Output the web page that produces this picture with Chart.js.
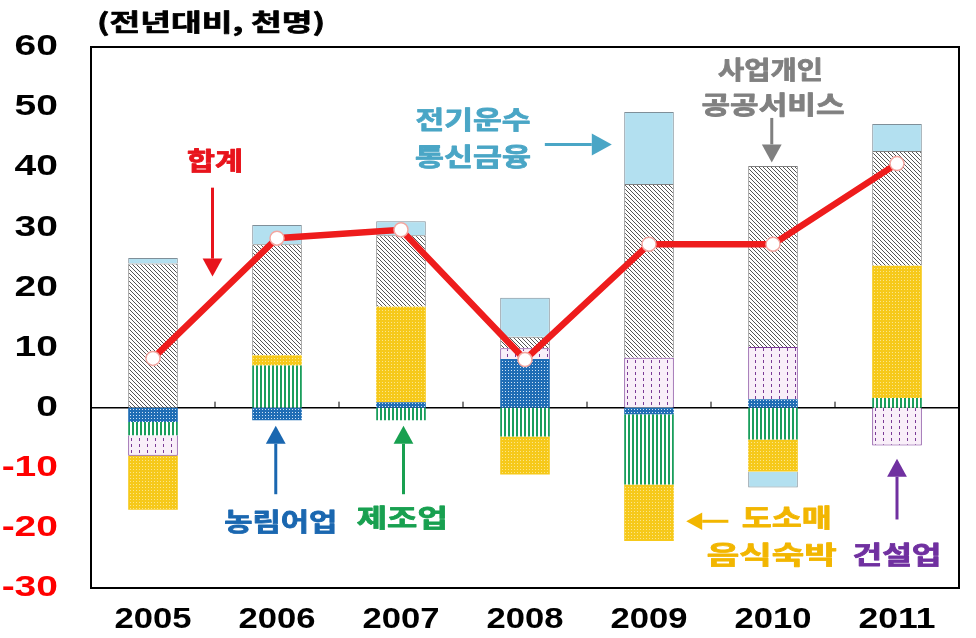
<!DOCTYPE html>
<html>
<head>
<meta charset="utf-8">
<script src="https://cdn.jsdelivr.net/npm/chart.js@4/dist/chart.umd.min.js"></script>
<style>
  html, body { margin: 0; padding: 0; background: #fff; }
  #wrap { width: 976px; height: 638px; }
</style>
</head>
<body>
<div id="wrap"><canvas id="myChart" width="976" height="638"></canvas></div>
<script>
// data (전년대비, 천명)
var years = ['2005', '2006', '2007', '2008', '2009', '2010', '2011'];
var agri = [-2.4, -2.1, 0.9, 8.1, -1.1, 1.4, 0];            // 농림어업
var manuf = [-2.2, 7.0, -2.1, -4.8, -11.7, -5.3, 1.6];      // 제조업
var constr = [-3.4, 0, 0, 1.8, 8.3, 8.7, -6.3];             // 건설업
var wholesale = [-9.0, 1.7, 15.9, -6.3, -9.4, -5.3, 22.0];  // 도소매 음식숙박
var services = [24.0, 18.5, 11.9, 1.9, 28.9, 30.1, 19.1];   // 사업개인 공공서비스
var transport = [0.9, 3.2, 2.3, 6.5, 12.0, -2.7, 4.5];      // 전기운수 통신금융
var total = [8.2, 28.2, 29.6, 8.0, 27.2, 27.2, 40.6];       // 합계

function makePattern(w, h, draw) {
  var c = document.createElement('canvas');
  c.width = w; c.height = h;
  var g = c.getContext('2d');
  draw(g);
  return g.createPattern(c, 'repeat');
}

var pAgri = makePattern(3, 3, function (g) {
  g.fillStyle = '#1f6db5'; g.fillRect(0, 0, 3, 3);
  g.fillStyle = '#cfe3f5'; g.fillRect(1, 1, 1, 1);
});
var pManuf = makePattern(4, 4, function (g) {
  g.fillStyle = '#ffffff'; g.fillRect(0, 0, 4, 4);
  g.fillStyle = '#1a9e5c'; g.fillRect(0, 0, 2, 4);
});
var pConstr = makePattern(8, 6, function (g) {
  g.fillStyle = '#f9eff9'; g.fillRect(0, 0, 8, 6);
  g.fillStyle = '#7a3a96'; g.fillRect(3, 0, 1, 3);
});
var pWhole = makePattern(3, 3, function (g) {
  g.fillStyle = '#f6c91a'; g.fillRect(0, 0, 3, 3);
  g.fillStyle = '#fbe58a'; g.fillRect(1, 1, 1, 1);
});
var pServ = makePattern(4, 4, function (g) {
  g.fillStyle = '#ffffff'; g.fillRect(0, 0, 4, 4);
  g.fillStyle = '#555555';
  for (var i = 0; i < 4; i++) g.fillRect(i, i, 1, 1);
});

var font = "'Liberation Sans', Arial, sans-serif";
var kfont = "'Noto Sans CJK KR', sans-serif";

function arrow(g, x1, y1, x2, y2, color, lw, head) {
  var a = Math.atan2(y2 - y1, x2 - x1);
  g.save();
  g.strokeStyle = color; g.fillStyle = color; g.lineWidth = lw;
  g.beginPath();
  g.moveTo(x1, y1);
  g.lineTo(x2 - Math.cos(a) * head, y2 - Math.sin(a) * head);
  g.stroke();
  g.beginPath();
  g.moveTo(x2, y2);
  g.lineTo(x2 - Math.cos(a) * head - Math.sin(a) * head * 0.55, y2 - Math.sin(a) * head + Math.cos(a) * head * 0.55);
  g.lineTo(x2 - Math.cos(a) * head + Math.sin(a) * head * 0.55, y2 - Math.sin(a) * head - Math.cos(a) * head * 0.55);
  g.closePath();
  g.fill();
  g.restore();
}

// text stretched sideways to the width it has in the picture
function label(g, text, x, y, color, size, width, fam, align, heavy) {
  g.save();
  g.font = 'bold ' + size + 'px ' + (fam || kfont);
  g.fillStyle = color;
  g.strokeStyle = color;
  g.lineWidth = heavy || 0;
  g.lineJoin = 'round';
  g.textAlign = align || 'center';
  g.textBaseline = 'middle';
  var sx = width ? width / g.measureText(text).width : 1;
  g.translate(x, y);
  g.scale(sx, 1);
  g.fillText(text, 0, 0);
  if (heavy) g.strokeText(text, 0, 0);
  g.restore();
}

var frame = {
  id: 'frame',
  beforeDatasetsDraw: function (chart) {
    var g = chart.ctx, a = chart.chartArea, y = chart.scales.y, x = chart.scales.x;
    var y0 = y.getPixelForValue(0);
    g.save();
    g.strokeStyle = '#000'; g.lineWidth = 1.5;
    g.beginPath(); g.moveTo(a.left, y0); g.lineTo(a.right, y0); g.stroke();
    g.lineWidth = 1;
    for (var i = 1; i < years.length; i++) {
      var px = (x.getPixelForValue(i - 1) + x.getPixelForValue(i)) / 2;
      g.beginPath(); g.moveTo(px, y0); g.lineTo(px, y0 - 6); g.stroke();
    }
    g.restore();
  },
  afterDraw: function (chart) {
    var g = chart.ctx, a = chart.chartArea, x = chart.scales.x, y = chart.scales.y;
    g.save();
    g.strokeStyle = '#000'; g.lineWidth = 2;
    g.strokeRect(a.left, a.top, a.right - a.left, a.bottom - a.top);
    g.restore();

    // tick labels
    y.ticks.forEach(function (t) {
      var s = String(t.value);
      g.save();
      g.font = 'bold 30px ' + font;
      var w = g.measureText(s).width * 1.3;
      g.restore();
      label(g, s, 58 - w, y.getPixelForValue(t.value), t.value < 0 ? '#ff0000' : '#000', 30, w, font, 'left');
    });
    years.forEach(function (yr, i) {
      label(g, yr, x.getPixelForValue(i), 620, '#000', 29, 77, font);
    });

    label(g, '(전년대비, 천명)', 211, 22, '#000', 24, 228, null, null, 0.7);

    var X = function (v) { return x.getPixelForValue(v); };
    var Y = function (v) { return y.getPixelForValue(v); };

    label(g, '합계', X(0.5), Y(41.2), '#e8141c', 25, 56, null, null, 0.8);
    arrow(g, X(0.48), Y(36.6), X(0.48), Y(21.8), '#e8141c', 3, 18);

    label(g, '전기운수', X(2.58), Y(47.9), '#4aa6c6', 25, 115, null, null, 0.8);
    label(g, '통신금융', X(2.58), Y(41.8), '#4aa6c6', 25, 116, null, null, 0.8);
    arrow(g, X(3.16), Y(43.8), X(3.7), Y(43.8), '#4aa6c6', 3, 20);

    label(g, '사업개인', X(4.98), Y(56.2), '#808080', 25, 105, null, null, 0.8);
    label(g, '공공서비스', X(5.0), Y(50.5), '#808080', 25, 143, null, null, 0.8);
    arrow(g, X(4.99), Y(48.2), X(4.99), Y(40.8), '#808080', 3, 18);

    label(g, '농림어업', X(1.03), Y(-18.9), '#1a67b0', 25, 113, null, null, 0.8);
    arrow(g, X(0.99), Y(-14.4), X(0.99), Y(-3.0), '#1a67b0', 3, 18);

    label(g, '제조업', X(2.01), Y(-18.3), '#18a050', 25, 91, null, null, 0.8);
    arrow(g, X(2.02), Y(-14.4), X(2.02), Y(-3.0), '#18a050', 3, 18);

    label(g, '도소매', X(5.11), Y(-18.3), '#f2b600', 25, 90, null, null, 0.8);
    label(g, '음식숙박', X(4.99), Y(-24.4), '#f2b600', 25, 130, null, null, 0.8);
    arrow(g, X(4.64), Y(-18.9), X(4.3), Y(-18.9), '#f2b600', 3, 16);

    label(g, '건설업', X(6.0), Y(-24.4), '#7030a0', 25, 89, null, null, 0.8);
    arrow(g, X(6.0), Y(-18.6), X(6.0), Y(-8.5), '#7030a0', 3, 18);
  }
};

var ctx = document.getElementById('myChart').getContext('2d');
var myChart = new Chart(ctx, {
  type: 'bar',
  data: {
    labels: years,
    datasets: [
      { type: 'line', label: '합계', data: total, stack: 'line', order: 0,
        borderColor: '#ee1c1c', borderWidth: 6.5, fill: false, tension: 0,
        pointRadius: 7, pointBackgroundColor: '#ffffff',
        pointBorderColor: '#f2a6a0', pointBorderWidth: 1.5 },
      { label: '농림어업', data: agri, stack: 's', order: 1, backgroundColor: pAgri, borderColor: '#1f6db5', borderWidth: 0 },
      { label: '제조업', data: manuf, stack: 's', order: 1, backgroundColor: pManuf, borderColor: '#1a9e5c', borderWidth: 0 },
      { label: '건설업', data: constr, stack: 's', order: 1, backgroundColor: pConstr, borderColor: '#7a3a96', borderWidth: 1 },
      { label: '도소매 음식숙박', data: wholesale, stack: 's', order: 1, backgroundColor: pWhole, borderColor: '#f6c91a', borderWidth: 0 },
      { label: '사업개인 공공서비스', data: services, stack: 's', order: 1, backgroundColor: pServ, borderColor: '#7f7f7f', borderWidth: 1 },
      { label: '전기운수 통신금융', data: transport, stack: 's', order: 1, backgroundColor: '#b3e0f0', borderColor: '#7f8f99', borderWidth: 1 }
    ]
  },
  options: {
    responsive: false,
    animation: false,
    layout: { padding: { top: 47, right: 17, left: 0, bottom: 0 } },
    datasets: { bar: { barPercentage: 0.4, categoryPercentage: 1 } },
    plugins: { legend: { display: false }, tooltip: { enabled: false } },
    scales: {
      x: {
        stacked: true,
        grid: { display: false, drawTicks: false },
        border: { display: false },
        ticks: { display: false },
        afterFit: function (s) { s.height = 50; }
      },
      y: {
        stacked: true,
        min: -30, max: 60,
        grid: { display: false, drawTicks: false },
        border: { display: false },
        ticks: { display: false, stepSize: 10 },
        afterFit: function (s) { s.width = 91; }
      }
    }
  },
  plugins: [frame]
});
</script>
</body>
</html>
